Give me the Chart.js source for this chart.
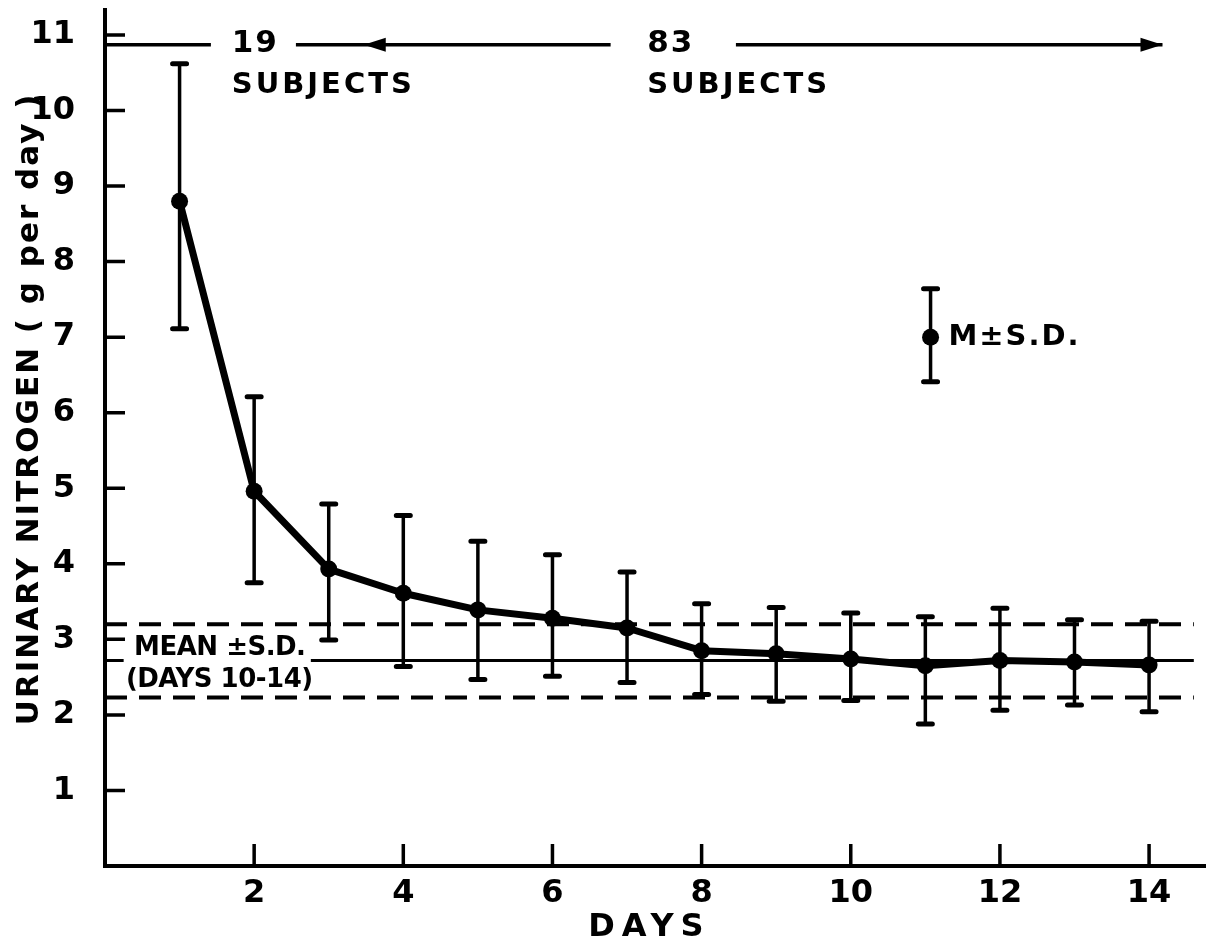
<!DOCTYPE html>
<html>
<head>
<meta charset="utf-8">
<script src="https://cdn.jsdelivr.net/npm/chart.js@4.4.0/dist/chart.umd.min.js"></script>
<style>
  html, body { margin: 0; padding: 0; background: #fff; }
  #wrap { width: 1218px; height: 945px; }
</style>
</head>
<body>
<div id="wrap"><canvas id="chart_nitrogen"></canvas></div>
<script>
//---------------DATOS-----------
const days = [1, 2, 3, 4, 5, 6, 7, 8, 9, 10, 11, 12, 13, 14];
const meanN = [8.80, 4.96, 3.93, 3.61, 3.39, 3.28, 3.15, 2.85, 2.81, 2.74, 2.65, 2.72, 2.70, 2.66];
const sdHigh = [10.62, 6.21, 4.79, 4.64, 4.30, 4.12, 3.89, 3.47, 3.42, 3.35, 3.30, 3.41, 3.26, 3.24];
const sdLow = [7.11, 3.75, 2.99, 2.64, 2.47, 2.51, 2.43, 2.27, 2.18, 2.19, 1.88, 2.06, 2.13, 2.04];

// mean +- SD of days 10-14
const refMean = 2.72;
const refHigh = 3.20;
const refLow = 2.23;
const refStart = 0;
const refTextEnd = 2.76;   // solid line starts after the label
const refEnd = 14.6;

// legend sample  M +- S.D.
const legendDay = [11.07];
const legendMean = [7.0];
const legendHigh = [7.64];
const legendLow = [6.41];

const xTicks = [2, 4, 6, 8, 10, 12, 14];
const yTicks = [1, 2, 3, 4, 5, 6, 7, 8, 9, 10, 11];

// subject arrows along the top (data units)
const arrowY = 10.87;
const arrowSegs = [[0, 1.42], [2.56, 6.78], [8.46, 14.18]];
const arrowHeadsLeft = [3.47];
const arrowHeadsRight = [14.18];
const groupLabels = ['19', '83'];
const groupX = [1.70, 7.27];

const FONT = '"DejaVu Sans", sans-serif';

//---------------PLUGIN DIBUJO-----------
const extras = {
  id: 'extras',
  afterDatasetsDraw(chart) {
    const ctx = chart.ctx;
    const xs = chart.scales.x;
    const ys = chart.scales.y;
    const area = chart.chartArea;
    ctx.save();
    ctx.strokeStyle = '#000';
    ctx.fillStyle = '#000';
    ctx.lineCap = 'round';

    // error bars
    const bar = (d, lo, hi) => {
      const x = xs.getPixelForValue(d);
      const y1 = ys.getPixelForValue(hi);
      const y2 = ys.getPixelForValue(lo);
      ctx.lineWidth = 3.5;
      ctx.beginPath();
      ctx.moveTo(x, y1); ctx.lineTo(x, y2);
      ctx.stroke();
      ctx.lineWidth = 5;
      ctx.beginPath();
      ctx.moveTo(x - 7, y1); ctx.lineTo(x + 7, y1);
      ctx.moveTo(x - 7, y2); ctx.lineTo(x + 7, y2);
      ctx.stroke();
    };
    days.forEach((d, i) => bar(d, sdLow[i], sdHigh[i]));
    legendDay.forEach((d, i) => bar(d, legendLow[i], legendHigh[i]));

    // tick marks pointing inside
    ctx.lineCap = 'butt';
    ctx.lineWidth = 3.5;
    ctx.beginPath();
    xTicks.forEach(v => {
      const x = xs.getPixelForValue(v);
      ctx.moveTo(x, area.bottom); ctx.lineTo(x, area.bottom - 22);
    });
    yTicks.forEach(v => {
      const y = ys.getPixelForValue(v);
      ctx.moveTo(area.left, y); ctx.lineTo(area.left + 20, y);
    });
    ctx.stroke();

    // top arrows
    const ay = ys.getPixelForValue(arrowY);
    ctx.lineWidth = 3.5;
    ctx.beginPath();
    arrowSegs.forEach(s => {
      ctx.moveTo(xs.getPixelForValue(s[0]), ay);
      ctx.lineTo(xs.getPixelForValue(s[1]), ay);
    });
    ctx.stroke();
    arrowHeadsLeft.forEach(v => {
      const x = xs.getPixelForValue(v);
      ctx.beginPath();
      ctx.moveTo(x, ay); ctx.lineTo(x + 22, ay - 7); ctx.lineTo(x + 22, ay + 7);
      ctx.closePath(); ctx.fill();
    });
    arrowHeadsRight.forEach(v => {
      const x = xs.getPixelForValue(v);
      ctx.beginPath();
      ctx.moveTo(x, ay); ctx.lineTo(x - 22, ay - 7); ctx.lineTo(x - 22, ay + 7);
      ctx.closePath(); ctx.fill();
    });

    // texts
    ctx.textBaseline = 'middle';
    ctx.textAlign = 'left';
    ctx.font = 'bold 31px ' + FONT;
    ctx.letterSpacing = '2px';
    groupLabels.forEach((t, i) => {
      ctx.fillText(t, xs.getPixelForValue(groupX[i]), ay - 1);
    });
    ctx.font = 'bold 29px ' + FONT;
    ctx.letterSpacing = '3px';
    groupX.forEach(v => {
      ctx.fillText('SUBJECTS', xs.getPixelForValue(v), ys.getPixelForValue(10.33));
    });

    ctx.font = 'bold 26px ' + FONT;
    ctx.letterSpacing = '-0.5px';
    ctx.fillText('MEAN \u00b1S.D.', xs.getPixelForValue(0.39), ys.getPixelForValue(2.88));
    ctx.fillText('(DAYS 10-14)', xs.getPixelForValue(0.28), ys.getPixelForValue(2.46));

    ctx.font = 'bold 29px ' + FONT;
    ctx.letterSpacing = '2px';
    ctx.fillText('M\u00b1S.D.', xs.getPixelForValue(11.31), ys.getPixelForValue(legendMean[0]));

    // axis titles
    ctx.textAlign = 'center';
    ctx.font = 'bold 32px ' + FONT;
    ctx.letterSpacing = '7px';
    ctx.fillText('DAYS', xs.getPixelForValue(7.3), 928);

    ctx.save();
    ctx.translate(30, ys.getPixelForValue(6.05));
    ctx.rotate(-Math.PI / 2);
    ctx.font = 'bold 31px ' + FONT;
    ctx.letterSpacing = '2px';
    ctx.fillText('URINARY NITROGEN ( g per day )', 0, 0);
    ctx.restore();

    ctx.restore();
  }
};

//---------------GRAFICO-----------
const ctx_n = document.getElementById('chart_nitrogen').getContext('2d');

const chart_nitrogen = new Chart(ctx_n, {
  type: 'scatter',
  data: {
    datasets: [
      {
        label: 'mean',
        data: days.map((d, i) => ({ x: d, y: meanN[i] })),
        showLine: true,
        borderColor: '#000',
        backgroundColor: '#000',
        borderWidth: 7,
        pointRadius: 8.5,
        pointBorderWidth: 0,
        borderJoinStyle: 'round',
        order: 0
      },
      {
        label: 'legend',
        data: legendDay.map((d, i) => ({ x: d, y: legendMean[i] })),
        backgroundColor: '#000',
        pointRadius: 8.5,
        pointBorderWidth: 0
      },
      {
        label: 'ref mean',
        data: [{ x: refStart, y: refMean }, { x: 0.25, y: refMean }, { x: 1, y: null },
               { x: refTextEnd, y: refMean }, { x: refEnd, y: refMean }],
        showLine: true,
        spanGaps: false,
        borderColor: '#000',
        borderWidth: 3,
        pointRadius: 0
      },
      {
        label: 'ref high',
        data: [{ x: refStart, y: refHigh }, { x: refEnd, y: refHigh }],
        showLine: true,
        borderColor: '#000',
        borderWidth: 4,
        borderDash: [22, 12],
        pointRadius: 0
      },
      {
        label: 'ref low',
        data: [{ x: refStart, y: refLow }, { x: refEnd, y: refLow }],
        showLine: true,
        borderColor: '#000',
        borderWidth: 4,
        borderDash: [22, 12],
        pointRadius: 0
      }
    ]
  },
  options: {
    responsive: true,
    maintainAspectRatio: false,
    animation: false,
    layout: { padding: { top: 10, right: 13, left: 0, bottom: 0 } },
    plugins: {
      legend: { display: false },
      tooltip: { enabled: false }
    },
    scales: {
      x: {
        type: 'linear',
        min: 0,
        max: 14.75,
        afterBuildTicks: axis => { axis.ticks = xTicks.map(v => ({ value: v })); },
        afterFit: axis => {
          axis.height = 79;
          axis.paddingLeft = 0; axis.paddingRight = 0;
        },
        grid: { display: false },
        border: { color: '#000', width: 4 },
        ticks: {
          color: '#000',
          padding: 0,
          font: { family: FONT, size: 32, weight: 'bold' }
        }
      },
      y: {
        type: 'linear',
        min: 0,
        max: 11.33,
        afterBuildTicks: axis => { axis.ticks = yTicks.map(v => ({ value: v })); },
        afterFit: axis => {
          axis.width = 105;
          axis.paddingTop = 0; axis.paddingBottom = 0;
        },
        grid: { display: false },
        border: { color: '#000', width: 4 },
        ticks: {
          color: '#000',
          padding: 22,
          font: { family: FONT, size: 32, weight: 'bold' }
        }
      }
    }
  },
  plugins: [extras]
});
</script>
</body>
</html>
